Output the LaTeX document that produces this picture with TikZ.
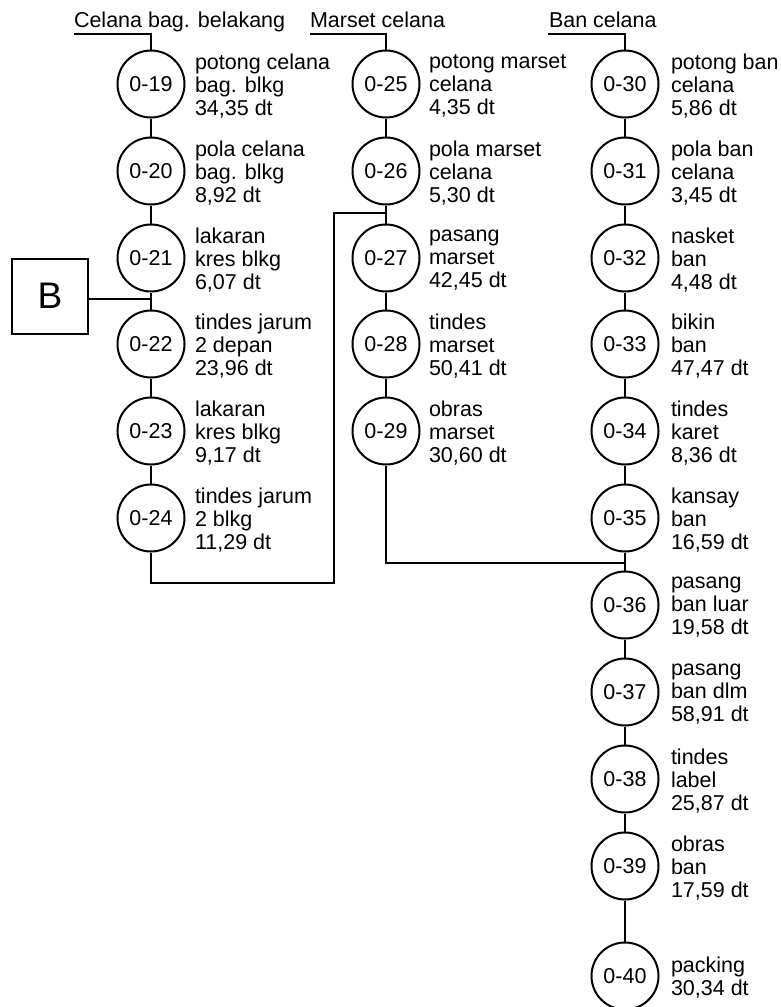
\documentclass[tikz,border=0pt]{standalone}
\usepackage{fontspec}
\setmainfont{Liberation Sans}
\begin{document}
\begin{tikzpicture}[x=1pt,y=-1pt,
  line width=2pt,
  op/.style={circle,draw,minimum size=67pt,inner sep=0pt,font=\fontsize{21.5}{23}\selectfont},
  lbl/.style={anchor=west,align=left,inner sep=0pt,font=\fontsize{21.5}{23}\selectfont},
  head/.style={anchor=base west,inner sep=0pt,font=\fontsize{21.5}{23}\selectfont},
  bbox/.style={draw,minimum width=76pt,minimum height=75pt,inner sep=0pt,font=\fontsize{37}{40}\selectfont}]
\useasboundingbox (0,0) rectangle (781,1007);
% column 1
\node[head] (h1) at (73,27) {Celana bag. belakang};
\coordinate (h1l) at (74,34);
\node[op] (c19) at (151,84) {0-19};
\node[op] (c20) at (151,171) {0-20};
\node[op] (c21) at (151,258) {0-21};
\node[op] (c22) at (151,344) {0-22};
\node[op] (c23) at (151,431) {0-23};
\node[op] (c24) at (151,518) {0-24};
\node[lbl] (t19) at (194,86) {potong celana\\bag. blkg\\34,35 dt};
\node[lbl] (t20) at (194,173) {pola celana\\bag. blkg\\8,92 dt};
\node[lbl] (t21) at (194,260) {lakaran\\kres blkg\\6,07 dt};
\node[lbl] (t22) at (194,346) {tindes jarum\\2 depan\\23,96 dt};
\node[lbl] (t23) at (194,433) {lakaran\\kres blkg\\9,17 dt};
\node[lbl] (t24) at (194,520) {tindes jarum\\2 blkg\\11,29 dt};
% column 2
\node[head] (h2) at (309,27) {Marset celana};
\coordinate (h2l) at (310,34);
\node[op] (c25) at (386,84) {0-25};
\node[op] (c26) at (386,171) {0-26};
\node[op] (c27) at (386,258) {0-27};
\node[op] (c28) at (386,344) {0-28};
\node[op] (c29) at (386,431) {0-29};
\node[lbl] (t25) at (428,86) {potong marset\\celana\\4,35 dt};
\node[lbl] (t26) at (428,173) {pola marset\\celana\\5,30 dt};
\node[lbl] (t27) at (428,260) {pasang\\marset\\42,45 dt};
\node[lbl] (t28) at (428,346) {tindes\\marset\\50,41 dt};
\node[lbl] (t29) at (428,433) {obras\\marset\\30,60 dt};
% column 3
\node[head] (h3) at (548,27) {Ban celana};
\coordinate (h3l) at (548,34);
\node[op] (c30) at (625,84) {0-30};
\node[op] (c31) at (625,171) {0-31};
\node[op] (c32) at (625,258) {0-32};
\node[op] (c33) at (625,344) {0-33};
\node[op] (c34) at (625,431) {0-34};
\node[op] (c35) at (625,518) {0-35};
\node[op] (c36) at (625,605) {0-36};
\node[op] (c37) at (625,692) {0-37};
\node[op] (c38) at (625,779) {0-38};
\node[op] (c39) at (625,866) {0-39};
\node[op] (c40) at (625,976) {0-40};
\node[lbl] (t30) at (670,86) {potong ban\\celana\\5,86 dt};
\node[lbl] (t31) at (670,173) {pola ban\\celana\\3,45 dt};
\node[lbl] (t32) at (670,260) {nasket\\ban\\4,48 dt};
\node[lbl] (t33) at (670,346) {bikin\\ban\\47,47 dt};
\node[lbl] (t34) at (670,433) {tindes\\karet\\8,36 dt};
\node[lbl] (t35) at (670,520) {kansay\\ban\\16,59 dt};
\node[lbl] (t36) at (670,607) {pasang\\ban luar\\19,58 dt};
\node[lbl] (t37) at (670,694) {pasang\\ban dlm\\58,91 dt};
\node[lbl] (t38) at (670,781) {tindes\\label\\25,87 dt};
\node[lbl] (t39) at (670,868) {obras\\ban\\17,59 dt};
\node[lbl] (t40) at (670,978) {packing\\30,34 dt};
% box B
\node[bbox] (B) at (50,296) {B};
\coordinate (jB) at (151,299);
% heading leaders
\draw (h1l) -| (c19.north);
\draw (h2l) -| (c25.north);
\draw (h3l) -| (c30.north);
% chains
\draw (c19) -- (c20) -- (c21) -- (c22) -- (c23) -- (c24);
\draw (c25) -- (c26) -- (c27) -- (c28) -- (c29);
\draw (c30) -- (c31) -- (c32) -- (c33) -- (c34) -- (c35) -- (c36) -- (c37) -- (c38) -- (c39) -- (c40);
% B joins
\draw (B.east |- jB) -- (jB);
% 0-24 into column 2
\coordinate (k1) at (334,583);
\coordinate (k2) at (334,213);
\coordinate (j1) at (386,213);
\draw (c24.south) |- (k1) -- (k2) -- (j1);
% 0-29 into column 3
\coordinate (j2) at (625,563);
\draw (c29.south) |- (j2);
\end{tikzpicture}
\end{document}
